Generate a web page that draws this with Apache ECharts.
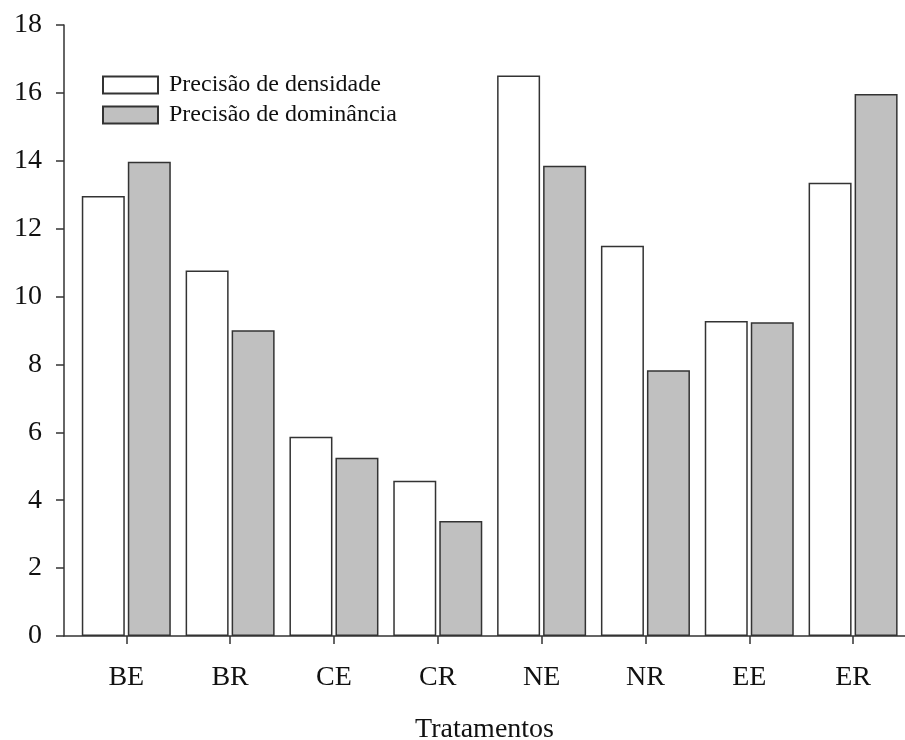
<!DOCTYPE html>
<html>
<head>
<meta charset="utf-8">
<script src="https://cdn.jsdelivr.net/npm/echarts@6/dist/echarts.min.js"></script>
<style>
  html, body { margin: 0; padding: 0; background: #fff; }
  #chart { width: 905px; height: 740px; }
</style>
</head>
<body>
<div id="chart"></div>
<script>
// 处理组
const categories = ['BE', 'BR', 'CE', 'CR', 'NE', 'NR', 'EE', 'ER']
const densidade = [12.96, 10.77, 5.87, 4.57, 16.51, 11.50, 9.28, 13.35]
const dominancia = [13.97, 9.01, 5.25, 3.39, 13.85, 7.83, 9.24, 15.97]
const yTicks = [0, 2, 4, 6, 8, 10, 12, 14, 16, 18]

const fontFamily = "'Liberation Serif', 'Times New Roman', serif"
const positions = categories.map((c, i) => i + 1)

let myChart = echarts.init(document.getElementById('chart'))
myChart.setOption({
    animation: false,
    backgroundColor: '#fff',
    textStyle: { fontFamily: fontFamily, color: '#111' },
    // 不让坐标轴名称挤压绘图区
    grid: { left: 64, right: 0, top: 25, bottom: 104, outerBoundsMode: 'none', containLabel: false },
    legend: {
        orient: 'vertical',
        left: 102,
        top: 73,
        padding: 0,
        itemWidth: 55,
        itemHeight: 17,
        itemGap: 6,
        icon: 'rect',
        textStyle: { fontFamily: fontFamily, fontSize: 24, color: '#111', padding: [0, 0, 0, 6] },
        data: ['Precisão de densidade', 'Precisão de dominância']
    },
    xAxis: {
        type: 'value',
        min: 0.4,
        max: 8.5,
        name: 'Tratamentos',
        nameLocation: 'middle',
        nameGap: 80,
        nameTextStyle: { fontFamily: fontFamily, fontSize: 28, color: '#111' },
        axisLine: { onZero: false, lineStyle: { color: '#333', width: 1.5 } },
        axisTick: { show: true, length: 8, customValues: positions, lineStyle: { color: '#333', width: 1.5 } },
        axisLabel: {
            customValues: positions,
            margin: 28,
            fontSize: 28,
            color: '#111',
            fontFamily: fontFamily,
            formatter: v => categories[Math.round(v) - 1] || ''
        },
        splitLine: { show: false }
    },
    yAxis: {
        type: 'value',
        min: 0,
        max: 18,
        interval: 2,
        axisLine: { show: true, lineStyle: { color: '#333', width: 1.5 } },
        axisTick: { show: true, length: 8, lineStyle: { color: '#333', width: 1.5 } },
        axisLabel: {
            margin: 22,
            fontSize: 28,
            color: '#111',
            fontFamily: fontFamily,
            formatter: v => yTicks.indexOf(v) >= 0 ? String(v) : ''
        },
        splitLine: { show: false }
    },
    series: [
        {
            name: 'Precisão de densidade',
            type: 'bar',
            barWidth: 43,
            barGap: '7%',
            itemStyle: { color: '#ffffff', borderColor: '#333', borderWidth: 1.5 },
            data: densidade.map((v, i) => [positions[i], v])
        },
        {
            name: 'Precisão de dominância',
            type: 'bar',
            barWidth: 43,
            barGap: '7%',
            itemStyle: { color: '#c0c0c0', borderColor: '#333', borderWidth: 1.5 },
            data: dominancia.map((v, i) => [positions[i], v])
        }
    ]
})
window.addEventListener('resize', function () {
    myChart.resize()
})
</script>
</body>
</html>
